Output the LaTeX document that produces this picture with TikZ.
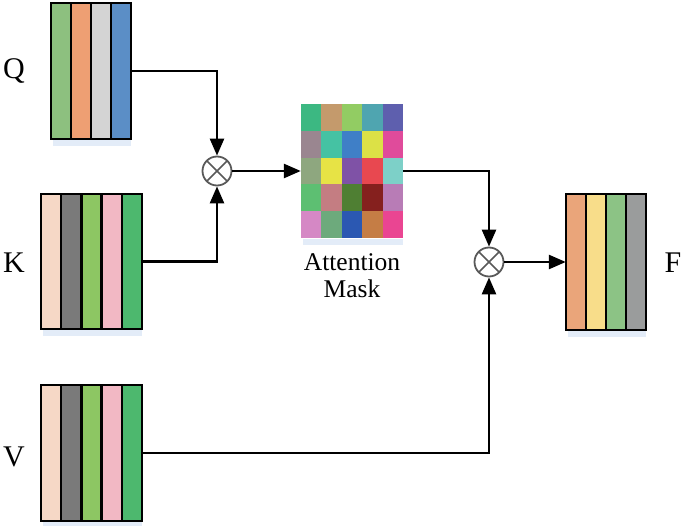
\documentclass[tikz,border=0pt]{standalone}
\usepackage{fontspec}
\setmainfont{Liberation Serif}
\usetikzlibrary{arrows.meta}
% Q colours
\definecolor{qa}{HTML}{8DC07F}\definecolor{qb}{HTML}{EE9F73}\definecolor{qc}{HTML}{D4D4D4}\definecolor{qd}{HTML}{5B8EC6}
% K/V colours
\definecolor{ka}{HTML}{F6D8C6}\definecolor{kb}{HTML}{7A7A7A}\definecolor{kc}{HTML}{8DC663}\definecolor{kd}{HTML}{F2B8C4}\definecolor{ke}{HTML}{4DB86E}
% F colours
\definecolor{fa}{HTML}{EAA57A}\definecolor{fb}{HTML}{F8DD8A}\definecolor{fc}{HTML}{8CC385}\definecolor{fd}{HTML}{9A9C9C}
\definecolor{shadowblue}{HTML}{E3ECF8}
\begin{document}
\begin{tikzpicture}[x=1pt,y=-1pt,
  lbl/.style={font=\fontsize{30}{32}\selectfont, inner sep=0pt},
  arr/.style={-{Triangle[length=17pt,width=14pt]}, line width=2.6pt},
  col/.style={draw=black, line width=2.4pt},
  anchorbox/.style={inner sep=0pt, draw=none},
  op/.style={circle, draw=black!65, line width=1.8pt, minimum size=29pt, inner sep=0pt,
    path picture={\draw[black!65, line width=1.6pt]
      (path picture bounding box.south west) -- (path picture bounding box.north east)
      (path picture bounding box.north west) -- (path picture bounding box.south east);}}]
\useasboundingbox (0,0) rectangle (685,526);

% shadows
\fill[shadowblue] (53,140) rectangle (131,146);
\fill[shadowblue] (43,330) rectangle (142,336);
\fill[shadowblue] (43,522) rectangle (142,526);
\fill[shadowblue] (568,331) rectangle (646,337);
\fill[shadowblue] (303,239) rectangle (403,245);

% Q block
\foreach \c [count=\i from 0] in {qa,qb,qc,qd}
  \filldraw[col, fill=\c] (51+20*\i,3) rectangle ++(20,136);
\node[anchorbox, minimum width=80pt, minimum height=136pt] (Q) at (91,71) {};

% K block
\foreach \c [count=\i from 0] in {ka,kb,kc,kd,ke}
  \filldraw[col, fill=\c] (41+20.2*\i,194) rectangle ++(20.2,135);
\node[anchorbox, minimum width=101pt, minimum height=135pt] (K) at (91.5,261.5) {};

% V block
\foreach \c [count=\i from 0] in {ka,kb,kc,kd,ke}
  \filldraw[col, fill=\c] (41+20.2*\i,385) rectangle ++(20.2,136);
\node[anchorbox, minimum width=101pt, minimum height=136pt] (V) at (91.5,453) {};

% F block
\foreach \c [count=\i from 0] in {fa,fb,fc,fd}
  \filldraw[col, fill=\c] (566+20*\i,194) rectangle ++(20,136);
\node[anchorbox, minimum width=80pt, minimum height=136pt] (F) at (606,262) {};

% Attention mask 5x5
\foreach \r [count=\j from 0] in {
  {3CB882,C49A6C,92CC63,4FA5B0,5E5FAE},
  {9A8690,45C2A3,3F7FC7,DCE146,E04B9B},
  {8EA77F,E7E345,7F52A6,E84850,7DD0C8},
  {5DBF72,C47D82,4F7F33,85201E,B87CB6},
  {D588C5,6DAA7C,2B58B2,C57D45,EA4592}}{
  \foreach \h [count=\i from 0] in \r {
    \definecolor{cellc}{HTML}{\h}
    \fill[cellc] (301+20.4*\i,104+26.8*\j) rectangle ++(20.4,26.8);
  }
}
\node[anchorbox, minimum width=102pt, minimum height=134pt] (M) at (352,171) {};
\node[lbl, font=\fontsize{25.5}{27.5}\selectfont, align=center, anchor=north] (Mlbl) at (352,253) {Attention\\Mask};

% operators
\node[op] (m1) at (217,171) {};
\node[op] (m2) at (489,262) {};

% labels
\node[lbl] (Ql) at (14,71) {Q};
\node[lbl] (Kl) at (14,263) {K};
\node[lbl] (Vl) at (14,457) {V};
\node[lbl] (Fl) at (673,263) {F};

% connectors
\draw[arr] (Q.east) -| (m1.north);
\draw[arr] (K.east) -| (m1.south);
\draw[arr] (m1.east) -- (M.west);
\draw[arr] (M.east) -| (m2.north);
\draw[arr] (V.east) -| (m2.south);
\draw[arr] (m2.east) -- (F.west);
\end{tikzpicture}
\end{document}
